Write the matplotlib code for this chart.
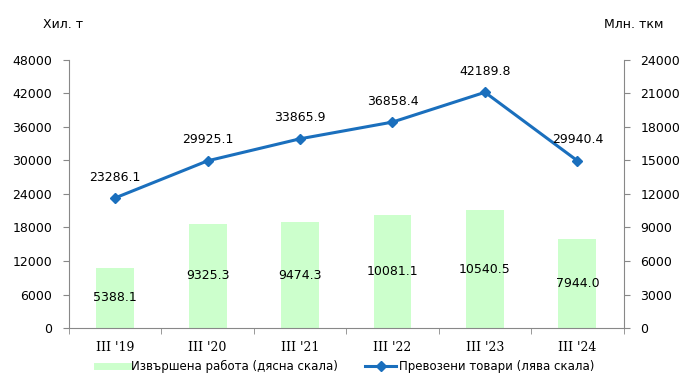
import matplotlib
matplotlib.use("Agg")
import matplotlib.pyplot as plt
import numpy as np
from matplotlib.lines import Line2D

categories = ["III '19", "III '20", "III '21", "III '22", "III '23", "III '24"]
work = [5388.1, 9325.3, 9474.3, 10081.1, 10540.5, 7944.0]      # right axis, bars
goods = [23286.1, 29925.1, 33865.9, 36858.4, 42189.8, 29940.4]  # left axis, line

bar_color = "#ccffcc"
line_color = "#1a6fbd"
spine_color = "#888888"

fig = plt.figure(figsize=(6.96, 3.91), dpi=100)
ax = fig.add_axes([0.099, 0.161, 0.797, 0.686])
ax2 = ax.twinx()

x = np.arange(len(categories))
ax2.bar(x, work, width=0.41, color=bar_color, zorder=1)
ax.set_zorder(ax2.get_zorder() + 1)
ax.patch.set_visible(False)
ax.plot(x, goods, color=line_color, lw=2.2, marker="D", ms=5.5, zorder=3)

ax.set_xlim(-0.5, len(categories) - 0.5)
ax.set_ylim(0, 48000)
ax.set_yticks(np.arange(0, 48001, 6000))
ax2.set_ylim(0, 24000)
ax2.set_yticks(np.arange(0, 24001, 3000))

for a in (ax, ax2):
    for s in a.spines.values():
        s.set_color(spine_color)
    a.spines["top"].set_visible(False)
ax.spines["right"].set_visible(False)
ax2.spines["left"].set_visible(False)
ax2.spines["bottom"].set_visible(False)

ax.tick_params(axis="y", labelsize=9, color=spine_color, length=4, pad=8)
ax2.tick_params(axis="y", labelsize=9, color=spine_color, length=4, pad=8)
ax.set_xticks(x)
ax.set_xticklabels(categories, fontfamily=["DejaVu Serif"], fontsize=9)
ax.tick_params(axis="x", which="major", length=0, pad=9)
ax.set_xticks(np.arange(-0.5, len(categories), 1.0), minor=True)
ax.tick_params(axis="x", which="minor", length=4, color=spine_color)

for xi, v in zip(x, goods):
    ax.annotate(f"{v:.1f}", (xi, v), xytext=(0, 15), textcoords="offset points",
                ha="center", va="center", fontsize=9)
for xi, v in zip(x, work):
    ax2.text(xi, v / 2, f"{v:.1f}", ha="center", va="center", fontsize=9)

fig.text(0.062, 0.938, "Хил. т", fontsize=9, ha="left", va="center")
fig.text(0.953, 0.938, "Млн. ткм", fontsize=9, ha="right", va="center")

handles = [Line2D([0], [0], color=bar_color, lw=5),
           Line2D([0], [0], color=line_color, lw=2.2, marker="D", ms=5)]
labels = ["Извършена работа (дясна скала)", "Превозени товари (лява скала)"]
fig.legend(handles, labels, loc="center", bbox_to_anchor=(0.497, 0.062), ncol=2,
           frameon=False, prop={"size": 8.5},
           handlelength=2.6, columnspacing=2.3, handletextpad=0.3)

fig.savefig("out.png", dpi=100)
